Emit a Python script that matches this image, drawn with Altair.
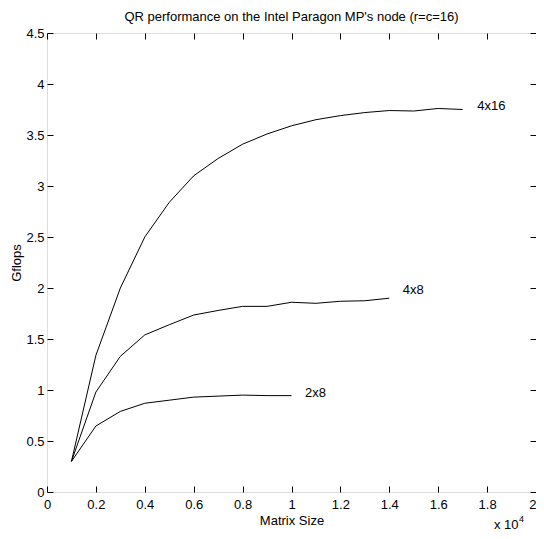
import altair as alt
import pandas as pd

# ---- data (matrix size, Gflops) ----
sizes_4x16 = [1000, 2000, 3000, 4000, 5000, 6000, 7000, 8000, 9000, 10000,
              11000, 12000, 13000, 14000, 15000, 16000, 17000]
gflops_4x16 = [0.30, 1.34, 2.00, 2.50, 2.84, 3.10, 3.27, 3.41, 3.51, 3.59,
               3.65, 3.69, 3.72, 3.74, 3.735, 3.76, 3.75]

sizes_4x8 = [1000, 2000, 3000, 4000, 5000, 6000, 7000, 8000, 9000, 10000,
             11000, 12000, 13000, 14000]
gflops_4x8 = [0.30, 0.98, 1.33, 1.54, 1.64, 1.735, 1.78, 1.82, 1.82, 1.86,
              1.85, 1.87, 1.875, 1.90]

sizes_2x8 = [1000, 2000, 3000, 4000, 5000, 6000, 7000, 8000, 9000, 10000]
gflops_2x8 = [0.30, 0.647, 0.79, 0.87, 0.90, 0.93, 0.94, 0.95, 0.945, 0.945]

label_names = ["4x16", "4x8", "2x8"]
label_x = [17600, 14550, 10550]
label_y = [3.78, 1.98, 0.97]

x_ticks = [0, 0.2, 0.4, 0.6, 0.8, 1, 1.2, 1.4, 1.6, 1.8, 2]
y_ticks = [0, 0.5, 1, 1.5, 2, 2.5, 3, 3.5, 4, 4.5]

rows = []
for name, xs, ys in [("4x16", sizes_4x16, gflops_4x16),
                     ("4x8", sizes_4x8, gflops_4x8),
                     ("2x8", sizes_2x8, gflops_2x8)]:
    for xv, yv in zip(xs, ys):
        rows.append({"grid": name, "x": xv / 1e4, "y": yv})
df = pd.DataFrame(rows)
labels = pd.DataFrame({"name": label_names,
                       "x": [v / 1e4 for v in label_x],
                       "y": label_y})

W, H = 489, 459
FONT = "Liberation Sans"
FS = 13
TK = 6

xscale = alt.Scale(domain=[0, 2], nice=False, zero=False)
yscale = alt.Scale(domain=[0, 4.5], nice=False, zero=False)

common_axis = dict(grid=False, domain=False, tickColor="black", tickWidth=1,
                   tickSize=TK, labelFont=FONT, labelFontSize=FS,
                   labelColor="black", titleFont=FONT, titleFontSize=FS,
                   titleColor="black", titleFontWeight="normal",
                   labelExpr="datum.value + ''", labelFlush=False,
                   labelOverlap=False)

x_bottom = alt.Axis(orient="bottom", values=x_ticks, offset=-TK,
                    labelPadding=6, title="Matrix Size", titlePadding=3,
                    labelAlign={"condition": {"test": "datum.value >= 2",
                                              "value": "right"},
                                "value": "center"},
                    **common_axis)
y_left = alt.Axis(orient="left", values=y_ticks, offset=-TK,
                  labelPadding=3, title="Gflops", titlePadding=2,
                  **common_axis)
x_top = alt.Axis(orient="top", values=x_ticks, offset=-TK, labels=False,
                 title=None, grid=False, domain=False, tickColor="black",
                 tickSize=TK)
y_right = alt.Axis(orient="right", values=y_ticks, offset=-TK, labels=False,
                   title=None, grid=False, domain=False, tickColor="black",
                   tickSize=TK)

lines = alt.Chart(df).mark_line(color="black", strokeWidth=1).encode(
    x=alt.X("x:Q", scale=xscale, axis=x_bottom),
    y=alt.Y("y:Q", scale=yscale, axis=y_left),
    detail="grid:N",
)

lines_top = alt.Chart(df).mark_line(color="black", strokeWidth=1,
                                    opacity=0).encode(
    x=alt.X("x:Q", scale=xscale, axis=x_top),
    y=alt.Y("y:Q", scale=yscale, axis=y_right),
    detail="grid:N",
)

text = alt.Chart(labels).mark_text(align="left", baseline="middle",
                                   font=FONT, fontSize=FS,
                                   color="black").encode(
    x=alt.X("x:Q", scale=xscale, axis=None),
    y=alt.Y("y:Q", scale=yscale, axis=None),
    text="name:N",
)

exp_base = alt.Chart(pd.DataFrame({"t": ["x 10"]})).mark_text(
    align="left", baseline="alphabetic", font=FONT, fontSize=FS,
    color="black").encode(x=alt.value(W - 42), y=alt.value(H + 37),
                          text="t:N")
exp_sup = alt.Chart(pd.DataFrame({"t": ["4"]})).mark_text(
    align="left", baseline="alphabetic", font=FONT, fontSize=9,
    color="black").encode(x=alt.value(W - 17), y=alt.value(H + 30),
                          text="t:N")

chart = alt.layer(lines, lines_top, text, exp_base, exp_sup).resolve_axis(
    x="independent", y="independent"
).properties(
    width=W, height=H,
    title=alt.TitleParams("QR performance on the Intel Paragon MP's node (r=c=16)",
                          font=FONT, fontSize=FS, fontWeight="normal",
                          color="black", anchor="middle", offset=3),
    autosize=alt.AutoSizeParams(type="none"),
    padding={"left": 39, "top": 25, "right": 0, "bottom": 39},
).configure_view(stroke="black", strokeWidth=1).configure(background="white")

chart.save("out.html", embed_options={"renderer": "svg", "actions": False})
